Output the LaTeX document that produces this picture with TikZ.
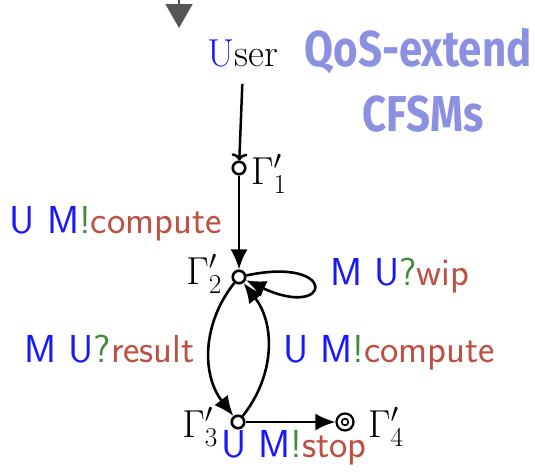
\RequirePackage{fix-cm}
\documentclass[tikz,border=0pt]{standalone}
\usepackage{fontspec}
\newfontfamily\handfont{Fira Sans}
\usetikzlibrary{arrows.meta}
\definecolor{partblue}{RGB}{25,25,245}
\definecolor{opgreen}{RGB}{60,140,60}
\definecolor{msgred}{RGB}{190,80,65}
\definecolor{inkviolet}{RGB}{120,125,220}
\definecolor{tipgray}{RGB}{85,85,85}
\newcommand{\trlab}[3]{\textcolor{partblue}{#1}\textcolor{opgreen}{#2}\textcolor{msgred}{#3}}
\begin{document}
\begin{tikzpicture}[x=1pt,y=-1pt,
  state/.style={circle,draw,line width=2.6pt,minimum size=12.5pt,inner sep=0pt,fill=white},
  finalstate/.style={circle,draw,line width=2.2pt,minimum size=17pt,inner sep=0pt,fill=white},
  serifl/.style={font=\fontsize{39}{44}\selectfont,inner sep=0pt},
  sansl/.style={font=\fontsize{39}{44}\selectfont\sffamily,inner sep=0pt},
  edge/.style={line width=2.6pt,-{Latex[length=20pt,width=17pt]}},
  hand/.style={font=\handfont\bfseries\fontsize{42}{48}\selectfont,text=inkviolet,text opacity=0.85,inner sep=0pt,yscale=1.2}]
\useasboundingbox (0,0) rectangle (535,471);
% grey arrow tip at top (from the previous stage)
\coordinate (t0) at (179,-5);
\coordinate (t1) at (179,28);
\draw[tipgray,line width=2pt,-{Triangle[length=24pt,width=27pt]}] (t0) -- (t1);
% handwritten note
\node[hand] (note1) at (418,51) {QoS-extend};
\node[hand] (note2) at (423,114) {CFSMs};
% user
\node[serifl,anchor=base] (user) at (243,66) {\textcolor{partblue}{U}ser};
% states
\node[state] (g1) at (239,168) {};
\node[state] (g2) at (239,277) {};
\node[state] (g3) at (238,422) {};
\node[finalstate] (g4) at (345,422) {};
\draw[line width=1.7pt] (g4) circle[radius=3.3pt];
% state labels
\node[serifl,anchor=base west] (l1) at (251,184) {$\Gamma'_1$};
\node[serifl,anchor=base east] (l2) at (222,284) {$\Gamma'_2$};
\node[serifl,anchor=base east] (l3) at (218,437) {$\Gamma'_3$};
\node[serifl,anchor=base west] (l4) at (368,437) {$\Gamma'_4$};
% edges
\draw[line width=2.5pt,shorten <=17pt,-{To[length=7pt,width=16pt]}] (user.south) -- (g1);
\draw[edge] (g1) -- (g2);
\draw[edge] (g2) to[out=12,in=-25,distance=95pt] (g2);
\draw[edge] (g2) to[bend right=38] (g3);
\draw[edge] (g3) to[bend right=38] (g2);
\draw[edge] (g3) -- (g4);
% edge labels
\node[sansl,anchor=base east] (e12) at (222,233) {\trlab{U M}{!}{compute}};
\node[sansl,anchor=base west] (e22) at (330,285) {\trlab{M U}{?}{wip}};
\node[sansl,anchor=base east] (e23) at (195,362) {\trlab{M U}{?}{result}};
\node[sansl,anchor=base west] (e32) at (283,362) {\trlab{U M}{!}{compute}};
\node[sansl,anchor=base west] (e34) at (221,457) {\trlab{U M}{!}{stop}};
\end{tikzpicture}
\end{document}
